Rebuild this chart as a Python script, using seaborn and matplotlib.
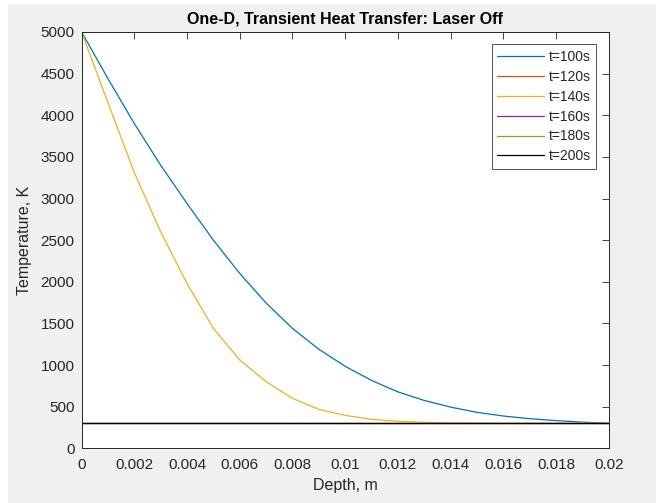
import numpy as np
import pandas as pd
import matplotlib
matplotlib.use("Agg")
import matplotlib.pyplot as plt
from matplotlib.patches import Rectangle
import seaborn as sns

depth = [0.000, 0.001, 0.002, 0.003, 0.004, 0.005, 0.006, 0.007, 0.008, 0.009, 0.010,
         0.011, 0.012, 0.013, 0.014, 0.015, 0.016, 0.017, 0.018, 0.019, 0.020]
t100 = [5000, 4440, 3900, 3400, 2940, 2500, 2100, 1745, 1440, 1190, 985,
        815, 678, 575, 495, 432, 388, 356, 333, 314, 300]
t120 = [300] * 21
t140 = [5000, 4150, 3310, 2600, 1980, 1440, 1060, 800, 600, 468, 396,
        348, 325, 312, 306, 303, 301, 300, 300, 300, 300]
t160 = [300] * 21
t180 = [300] * 21
t200 = [300] * 21
labels = ["t=100s", "t=120s", "t=140s", "t=160s", "t=180s", "t=200s"]
series = [t100, t120, t140, t160, t180, t200]
colors = ["#0072BD", "#D95319", "#EDB120", "#7E2F8E", "#77AC30", "#000000"]
xticks = [0, 0.002, 0.004, 0.006, 0.008, 0.01, 0.012, 0.014, 0.016, 0.018, 0.02]
xticklabels = ["0", "0.002", "0.004", "0.006", "0.008", "0.01", "0.012", "0.014", "0.016", "0.018", "0.02"]
yticks = [0, 500, 1000, 1500, 2000, 2500, 3000, 3500, 4000, 4500, 5000]

df = pd.concat([pd.DataFrame({"Depth": depth, "Temp": s, "Time": lab})
                for s, lab in zip(series, labels)], ignore_index=True)

sns.set_style("white")
plt.rcParams["font.family"] = ["Liberation Sans", "DejaVu Sans"]

fig = plt.figure(figsize=(6.56, 5.03), dpi=100, facecolor="#f0f0f0")
fig.patches.append(Rectangle((0, 0), 8 / 656, 1, transform=fig.transFigure,
                             facecolor="white", edgecolor="none", zorder=-1))
fig.patches.append(Rectangle((0, 1 - 4 / 503), 1, 4 / 503, transform=fig.transFigure,
                             facecolor="white", edgecolor="none", zorder=-1))
ax = fig.add_axes([0.1244, 0.1087, 0.8036, 0.8277])
ax.set_facecolor("white")

sns.lineplot(data=df, x="Depth", y="Temp", hue="Time", palette=colors,
             hue_order=labels, estimator=None, sort=False, linewidth=0.9, ax=ax)

ax.set_xlim(0, 0.02)
ax.set_ylim(0, 5000)
ax.set_xticks(xticks)
ax.set_xticklabels(xticklabels)
ax.set_yticks(yticks)
ax.tick_params(direction="in", length=5, width=0.6, top=True, right=True,
               labelsize=11, colors="#262626")
ax.tick_params(axis="x", pad=7)
ax.tick_params(axis="y", pad=5)
for sp in ax.spines.values():
    sp.set_color("#262626")
    sp.set_linewidth(0.7)
ax.set_xlabel("Depth, m", fontsize=11.5, color="#262626", labelpad=4)
ax.set_ylabel("Temperature, K", fontsize=11.5, color="#262626", labelpad=6)
ax.set_title("One-D, Transient Heat Transfer: Laser Off", fontsize=11.5,
             fontweight="bold", color="#000000", pad=6)

leg = ax.legend(loc="upper right", fontsize=10, frameon=True, fancybox=False,
                handlelength=3.4, labelspacing=0.42, borderpad=0.4,
                handletextpad=0.3, borderaxespad=0.9, title=None)
leg.get_frame().set_edgecolor("#262626")
leg.get_frame().set_linewidth(0.7)

fig.savefig("out.png", dpi=100, facecolor=fig.get_facecolor())
